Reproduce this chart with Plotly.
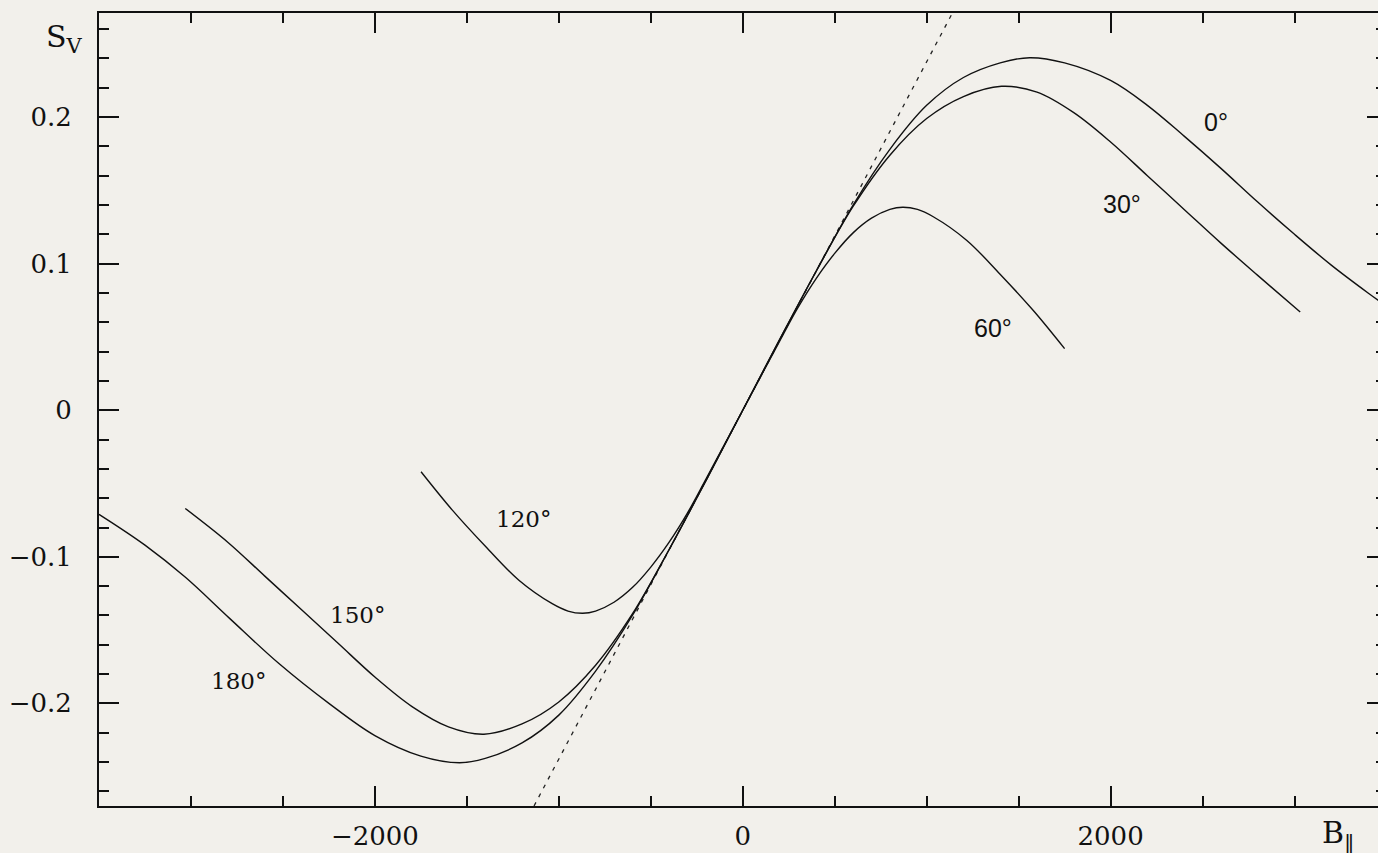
import plotly.graph_objects as go

# ---- data ----
b_0 = [0, 200, 400, 600, 800, 1000, 1200, 1400, 1560, 1750, 2000, 2200, 2400, 2600, 2800, 3000, 3200, 3400, 3500]
s_0 = [0, 0.048, 0.095, 0.140, 0.178, 0.208, 0.227, 0.237, 0.2405, 0.237, 0.225, 0.208, 0.187, 0.165, 0.142, 0.120, 0.099, 0.080, 0.071]

b_30 = [0, 200, 400, 600, 800, 1000, 1200, 1407, 1600, 1800, 2000, 2200, 2400, 2600, 2800, 3031]
s_30 = [0, 0.048, 0.095, 0.139, 0.174, 0.199, 0.214, 0.221, 0.217, 0.203, 0.183, 0.160, 0.137, 0.114, 0.092, 0.067]

b_60 = [0, 200, 300, 400, 500, 600, 700, 800, 870, 950, 1036, 1217, 1398, 1580, 1750]
s_60 = [0, 0.047, 0.070, 0.090, 0.107, 0.121, 0.131, 0.137, 0.1385, 0.137, 0.132, 0.116, 0.093, 0.068, 0.042]

b_120 = [0, -200, -300, -400, -500, -600, -700, -800, -870, -950, -1036, -1217, -1398, -1580, -1749]
s_120 = [0, -0.047, -0.070, -0.090, -0.107, -0.121, -0.131, -0.137, -0.1385, -0.137, -0.132, -0.116, -0.093, -0.068, -0.042]

b_150 = [0, -200, -400, -600, -800, -1000, -1200, -1407, -1600, -1800, -2000, -2200, -2400, -2600, -2800, -3031]
s_150 = [0, -0.048, -0.095, -0.139, -0.174, -0.199, -0.214, -0.221, -0.216, -0.202, -0.182, -0.159, -0.136, -0.113, -0.090, -0.067]

b_180 = [0, -200, -400, -600, -800, -1000, -1200, -1400, -1540, -1750, -2000, -2250, -2520, -2790, -3030, -3250, -3500]
s_180 = [0, -0.048, -0.095, -0.140, -0.178, -0.208, -0.227, -0.2375, -0.2405, -0.236, -0.222, -0.200, -0.173, -0.142, -0.114, -0.092, -0.071]

# weak-field linear approximation (dotted)
b_lin = [-1160, 1140]
s_lin = [-0.276, 0.271]

curve_b = [b_0, b_30, b_60, b_120, b_150, b_180]
curve_s = [s_0, s_30, s_60, s_120, s_150, s_180]

label_text = ["0°", "30°", "60°", "120°", "150°", "180°"]
label_b = [2574, 2063, 1361, -1192, -2095, -2743]
label_s = [0.1966, 0.1406, 0.056, -0.0744, -0.140, -0.185]
label_serif = [False, False, False, True, True, True]

x_range = [-3500, 3454]
y_range = [-0.27, 0.271]

BG = "#f2f0eb"
SERIF = "DejaVu Serif"
SANS = "Liberation Sans"

fig = go.Figure()

fig.add_trace(go.Scatter(x=b_lin, y=s_lin, mode="lines",
                         line=dict(color="#222", width=1.3, dash="4px,6px"),
                         showlegend=False, hoverinfo="skip"))

for bb, ss in zip(curve_b, curve_s):
    fig.add_trace(go.Scatter(x=bb, y=ss, mode="lines",
                             line=dict(color="#111", width=1.4, shape="spline", smoothing=1.0),
                             showlegend=False))

# invisible trace on y2 for right-side ticks
fig.add_trace(go.Scatter(x=[x_range[0]], y=[0], yaxis="y2", mode="markers",
                         marker=dict(opacity=0), showlegend=False, hoverinfo="skip"))

for t, xb, ys, serif in zip(label_text, label_b, label_s, label_serif):
    fig.add_annotation(x=xb, y=ys, xref="x", yref="y", text=t, showarrow=False,
                       font=dict(family=SERIF if serif else SANS, size=23 if serif else 25, color="#111"))

fig.add_annotation(x=-0.043, y=0.968, xref="paper", yref="paper", xanchor="left", yanchor="middle",
                   text="S<sub>V</sub>", showarrow=False,
                   font=dict(family=SERIF, size=30, color="#111"))
fig.add_annotation(x=0.955, y=-0.036, xref="paper", yref="paper", xanchor="left", yanchor="middle",
                   text="B<sub>‖</sub>", showarrow=False,
                   font=dict(family=SERIF, size=30, color="#111"))

axis_font = dict(family=SERIF, size=26, color="#111")

fig.update_layout(
    width=1378, height=853,
    margin=dict(l=99, r=0, t=13, b=47),
    paper_bgcolor=BG, plot_bgcolor=BG,
    xaxis=dict(range=x_range, showgrid=False, zeroline=False,
               showline=True, linecolor="#111", linewidth=2, mirror="ticks",
               ticks="inside", ticklen=20, tickwidth=1.5, tickcolor="#111",
               dtick=2000, tick0=0, exponentformat="none",
               minor=dict(dtick=500, tick0=0, ticks="inside", ticklen=10, tickwidth=1.5, tickcolor="#111", showgrid=False),
               tickfont=axis_font, ticklabelstandoff=6),
    yaxis=dict(range=y_range, showgrid=False, zeroline=False,
               showline=True, linecolor="#111", linewidth=2, mirror=False,
               ticks="inside", ticklen=20, tickwidth=1.5, tickcolor="#111",
               dtick=0.1, tick0=0,
               minor=dict(dtick=0.02, tick0=0, ticks="inside", ticklen=10, tickwidth=1.5, tickcolor="#111", showgrid=False),
               tickfont=axis_font, ticklabelstandoff=20),
    yaxis2=dict(range=y_range, overlaying="y", side="right", anchor="x", matches="y",
                showgrid=False, zeroline=False, showline=False, showticklabels=False,
                ticks="inside", ticklen=11, tickwidth=1.5, tickcolor="#111",
                dtick=0.1, tick0=0,
                minor=dict(dtick=0.02, tick0=0, ticks="inside", ticklen=2, tickwidth=1.5, tickcolor="#111", showgrid=False)),
)

fig.write_html("out.html", config={"displayModeBar": False},
               post_script="document.body.style.margin='0';document.body.style.background='" + BG + "';")
